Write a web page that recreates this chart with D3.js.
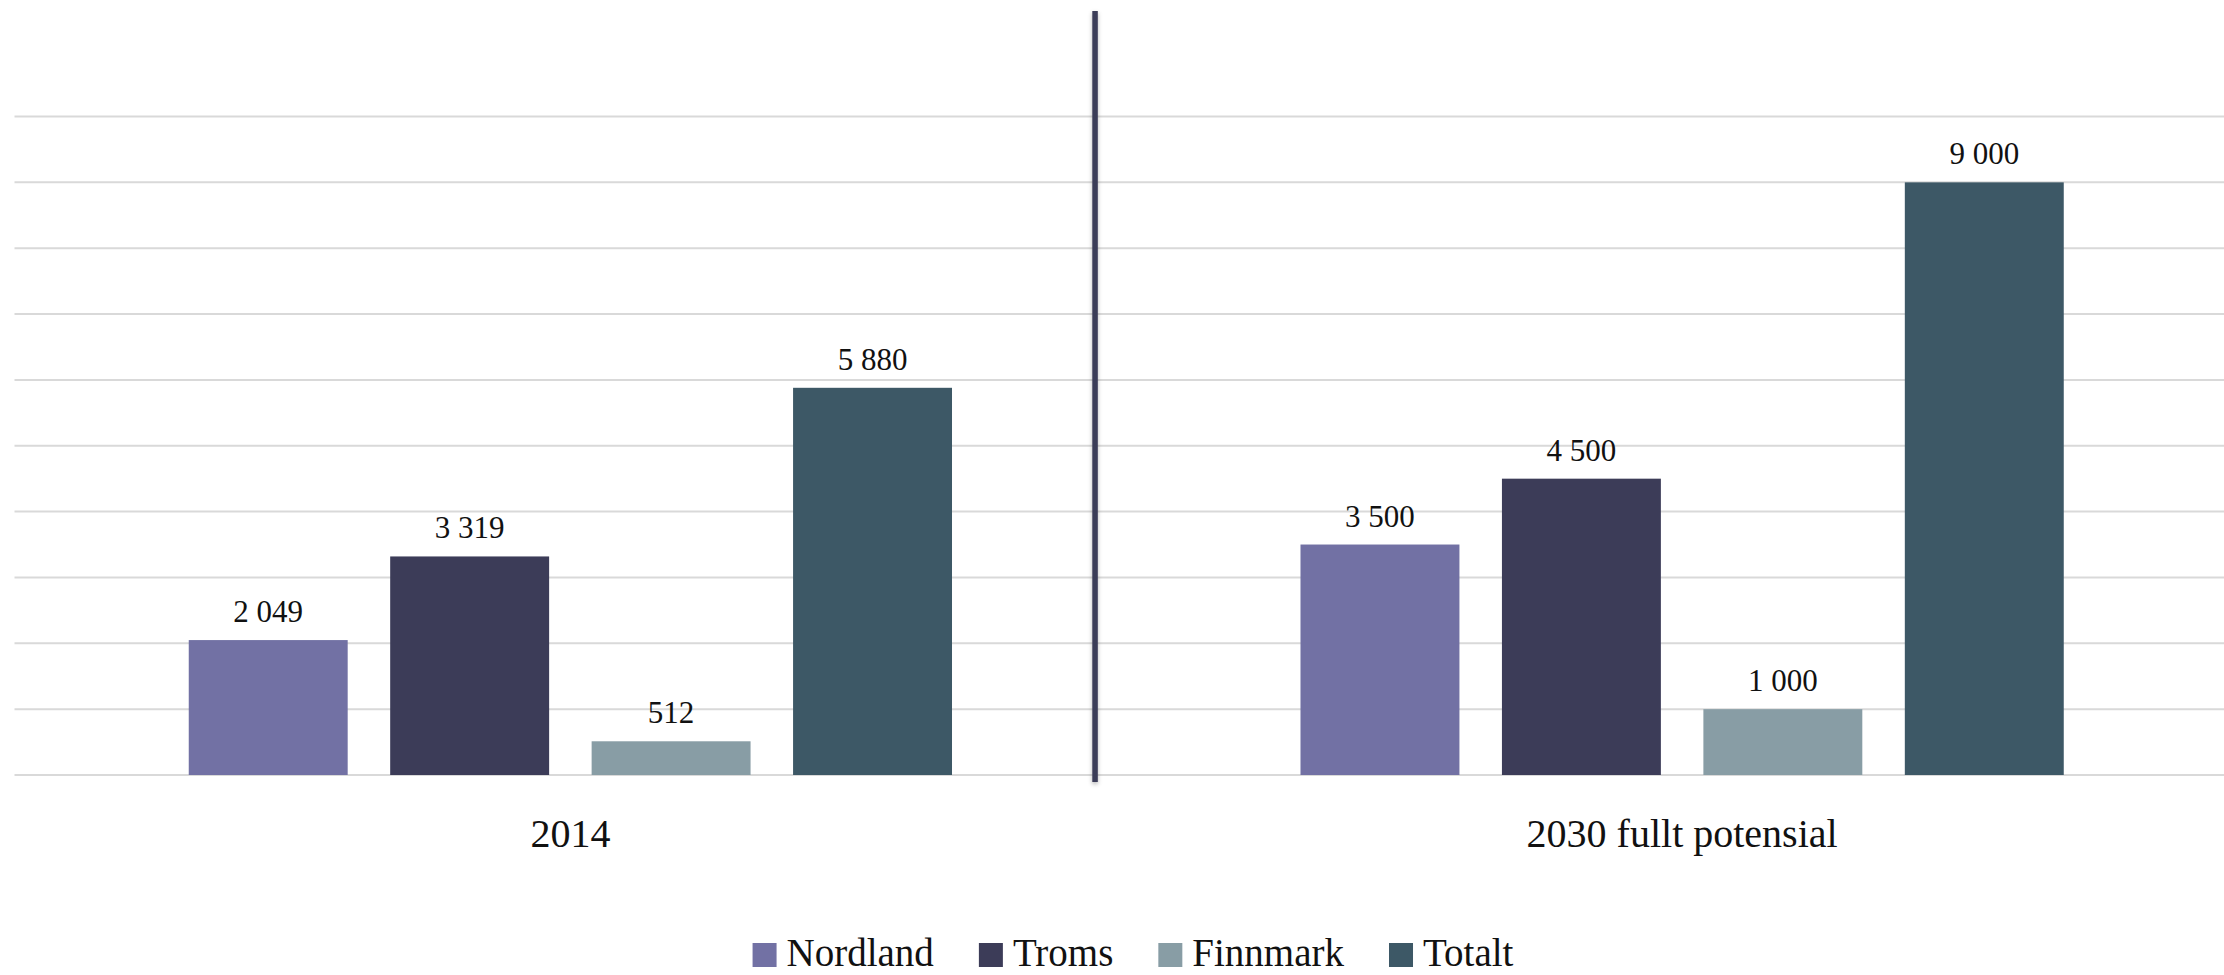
<!DOCTYPE html>
<html>
<head>
<meta charset="utf-8">
<script src="https://cdn.jsdelivr.net/npm/d3@7"></script>
<style>
  html, body { margin: 0; padding: 0; background: #fff; overflow: hidden; }
  svg { display: block; font-family: "Liberation Serif", "DejaVu Serif", serif; }
</style>
</head>
<body>
<div id="chart"></div>
<script>
// Grouped bar chart: Nordland / Troms / Finnmark / Totalt, 2014 vs 2030

const categories = ["2014", "2030 fullt potensial"]
const seriesNames = ["Nordland", "Troms", "Finnmark", "Totalt"]
const nordland = [2049, 3500]
const troms = [3319, 4500]
const finnmark = [512, 1000]
const totalt = [5880, 9000]
const yTicks = [0, 1000, 2000, 3000, 4000, 5000, 6000, 7000, 8000, 9000, 10000]

const colors = ["#7271a4", "#3c3c58", "#889da5", "#3d5866"]

const WIDTH = 2224
const HEIGHT = 975
const PLOT = { left: 14.5, right: 2238, top: 116.5, bottom: 775 }

const svg = d3.select("#chart")
  .append("svg")
  .attr("width", WIDTH)
  .attr("height", HEIGHT)

// soft shadow for the divider line
const defs = svg.append("defs")
const shadow = defs.append("filter")
  .attr("id", "divShadow")
  .attr("filterUnits", "userSpaceOnUse")
  .attr("x", 1070).attr("y", 0)
  .attr("width", 50).attr("height", 810)
shadow.append("feDropShadow")
  .attr("dx", 0).attr("dy", 2)
  .attr("stdDeviation", 2)
  .attr("flood-color", "#000")
  .attr("flood-opacity", 0.3)

const rows = categories.map((c, i) => ({
  category: c,
  values: [nordland[i], troms[i], finnmark[i], totalt[i]]
}))

const x0 = d3.scaleBand()
  .domain(categories)
  .range([PLOT.left, PLOT.right])
  .padding(0)

const x1 = d3.scaleBand()
  .domain(seriesNames)
  .range([0, x0.bandwidth()])
  .paddingInner(0.211)
  .paddingOuter(0.865)

const y = d3.scaleLinear()
  .domain([0, 10000])
  .range([PLOT.bottom, PLOT.top])

// horizontal gridlines
svg.append("g")
  .attr("class", "grid")
  .selectAll("line")
  .data(yTicks)
  .join("line")
    .attr("x1", PLOT.left)
    .attr("x2", WIDTH)
    .attr("y1", d => y(d))
    .attr("y2", d => y(d))
    .attr("stroke", "#d9d9d9")
    .attr("stroke-width", 2)

// divider between the two periods
svg.append("rect")
  .attr("x", 1092.3).attr("width", 5.5)
  .attr("y", 11).attr("height", 771)
  .attr("fill", "#3b3c58")
  .attr("filter", "url(#divShadow)")

const groups = svg.append("g")
  .selectAll("g")
  .data(rows)
  .join("g")
    .attr("transform", d => `translate(${x0(d.category)},0)`)

const fmt = v => d3.format(",")(v).replace(/,/g, " ")

groups.selectAll("rect")
  .data(d => d.values.map((v, i) => ({ name: seriesNames[i], value: v, i })))
  .join("rect")
    .attr("x", d => x1(d.name))
    .attr("y", d => y(d.value))
    .attr("width", x1.bandwidth())
    .attr("height", d => y(0) - y(d.value))
    .attr("fill", d => colors[d.i])

groups.selectAll("text.val")
  .data(d => d.values.map((v, i) => ({ name: seriesNames[i], value: v })))
  .join("text")
    .attr("class", "val")
    .attr("x", d => x1(d.name) + x1.bandwidth() / 2)
    .attr("y", d => y(d.value) - 18)
    .attr("text-anchor", "middle")
    .attr("font-size", 31)
    .attr("fill", "#111")
    .text(d => fmt(d.value))

// category labels
svg.append("g")
  .selectAll("text")
  .data(categories)
  .join("text")
    .attr("x", d => x0(d) + x0.bandwidth() / 2)
    .attr("y", 847)
    .attr("text-anchor", "middle")
    .attr("font-size", 40)
    .attr("fill", "#111")
    .text(d => d)

// legend
const legend = svg.append("g").attr("class", "legend")
const items = legend.selectAll("g")
  .data(seriesNames)
  .join("g")

items.append("rect")
  .attr("width", 24).attr("height", 24)
  .attr("y", 943)
  .attr("fill", (d, i) => colors[i])

items.append("text")
  .attr("x", 34)
  .attr("y", 966)
  .attr("font-size", 39)
  .attr("fill", "#111")
  .text(d => d)

let cursor = 0
const offsets = []
items.each(function() {
  offsets.push(cursor)
  const w = d3.select(this).select("text").node().getComputedTextLength()
  cursor += 34 + w + 45
})
const totalWidth = cursor - 45
const legendStart = 1133 - totalWidth / 2
items.attr("transform", (d, i) => `translate(${legendStart + offsets[i]},0)`)
</script>
</body>
</html>
